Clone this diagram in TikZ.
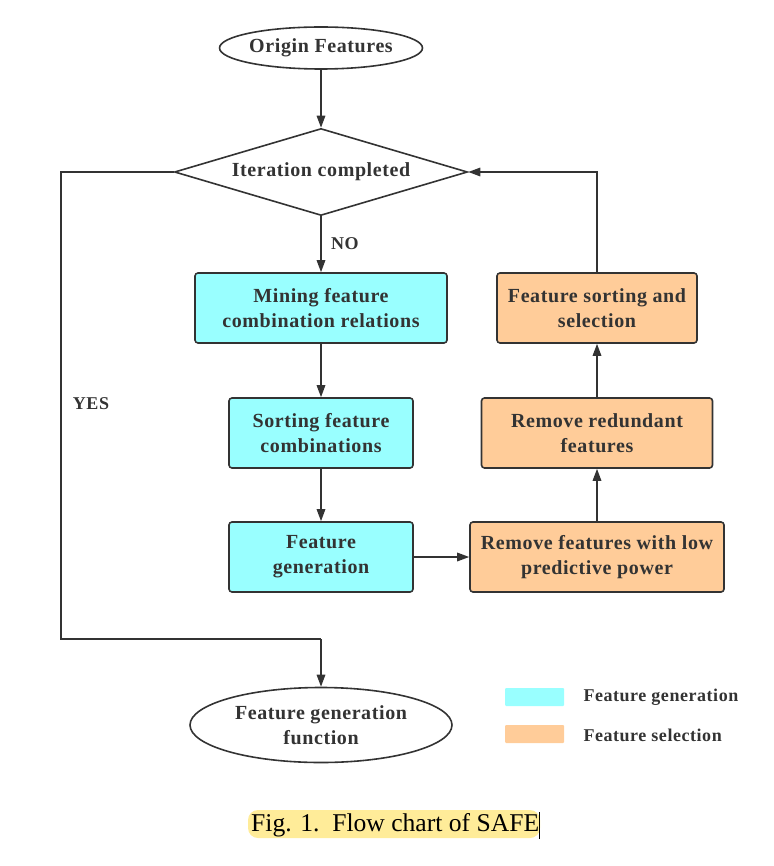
\documentclass[tikz,border=0pt]{standalone}
\usepackage{fontspec}
\setmainfont{Liberation Serif}
\newfontfamily\lblfont[LetterSpace=3]{Liberation Serif}
\usetikzlibrary{shapes.geometric,arrows.meta}
\definecolor{lc}{HTML}{333333}
\definecolor{gen}{HTML}{99FFFF}
\definecolor{sel}{HTML}{FFCC99}
\definecolor{hl}{HTML}{FFEC99}
\tikzset{
  x=1pt,y=-1pt,
  lbl/.style={font=\lblfont\bfseries\fontsize{20}{25}\selectfont,text=lc,align=center},
  small/.style={font=\lblfont\bfseries\fontsize{18}{22}\selectfont,text=lc},
  term/.style={ellipse,draw=lc,line width=1.6pt,lbl,inner sep=0pt},
  dec/.style={diamond,draw=lc,line width=1.6pt,lbl,inner sep=0pt,minimum width=293pt,minimum height=87pt,aspect=3.37},
  proc/.style={rectangle,rounded corners=3pt,draw=lc,line width=1.6pt,lbl,inner sep=0pt,minimum height=70pt},
  genbox/.style={proc,fill=gen},
  selbox/.style={proc,fill=sel},
  arr/.style={draw=lc,line width=1.6pt,-{Triangle[length=12pt,width=8.5pt]}},
  ln/.style={draw=lc,line width=1.6pt},
  legtext/.style={small,anchor=west}
}
\begin{document}
\begin{tikzpicture}
\useasboundingbox (0,0) rectangle (773,866);
\node[term,minimum width=198pt,minimum height=42pt] (orig) at (321,48) {Origin Features};
\node[dec] (iter) at (321,172) {Iteration completed};
\node[genbox,minimum width=252pt] (mine) at (321,308) {Mining feature\\combination relations};
\node[genbox,minimum width=184pt] (sortc) at (321,433) {Sorting feature\\combinations};
\node[genbox,minimum width=184pt] (fgen) at (321,557) {Feature\\generation};
\node[selbox,minimum width=254pt] (rlow) at (597,557) {Remove features with low\\predictive power};
\node[selbox,minimum width=231pt] (rred) at (597,433) {Remove redundant\\features};
\node[selbox,minimum width=200pt] (fss) at (597,308) {Feature sorting and\\selection};
\node[term,minimum width=262pt,minimum height=75pt] (fgf) at (321,725) {Feature generation\\function};
\coordinate (c1) at (597,172);
\coordinate (y1) at (61,172);
\coordinate (y2) at (61,639);
\coordinate (y3) at (321,639);
\draw[arr] (orig) -- (iter);
\draw[arr] (iter) -- node[small,right,xshift=6pt,yshift=1pt]{NO} (mine);
\draw[arr] (mine) -- (sortc);
\draw[arr] (sortc) -- (fgen);
\draw[arr] (fgen) -- (rlow);
\draw[arr] (rlow) -- (rred);
\draw[arr] (rred) -- (fss);
\draw[arr] (fss.north) -- (c1) -- (iter.east);
\draw[ln] (iter.west) -- (y1) -- (y2) -- (y3);
\draw[arr] (y3) -- (fgf.north);
\node[small] (yes) at (91,404) {YES};
\node[fill=gen,minimum width=59pt,minimum height=18pt,inner sep=0pt,rounded corners=1pt] (lg1) at (534.5,697) {};
\node[fill=sel,minimum width=59pt,minimum height=18pt,inner sep=0pt,rounded corners=1pt] (lg2) at (534.5,734) {};
\node[legtext] (lt1) at (580,697) {Feature generation};
\node[legtext] (lt2) at (580,735) {Feature selection};
\node[fill=hl,rounded corners=10pt,minimum width=292pt,minimum height=28pt,inner sep=0pt] (caphl) at (394,824) {};
\node[font=\fontsize{25.6}{28}\selectfont,text=black,anchor=west,inner sep=0pt] (cap) at (251,825) {Fig. 1.\ \ Flow chart of SAFE};
\draw[black,line width=0.8pt] (cap.east) ++(0,-13) -- ++(0,27);
\end{tikzpicture}
\end{document}
